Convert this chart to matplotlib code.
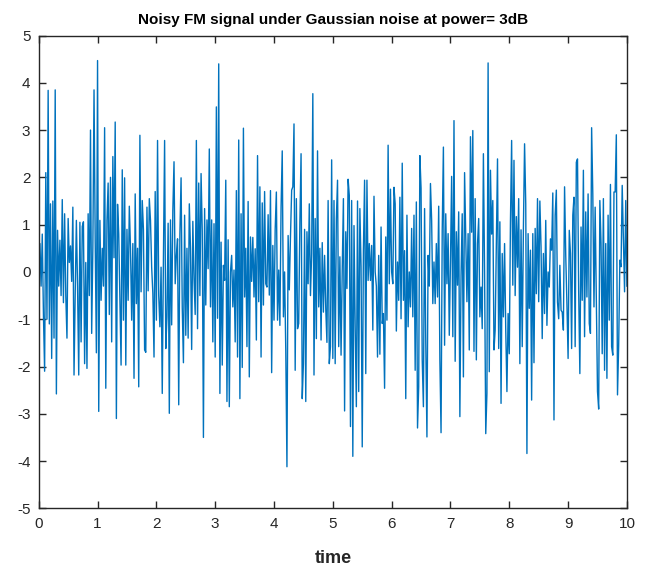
import numpy as np
import matplotlib
matplotlib.use("Agg")
import matplotlib.pyplot as plt

plt.rcParams['font.family'] = ['Liberation Sans', 'DejaVu Sans']
plt.rcParams['axes.unicode_minus'] = False

# signal values, one list per second (step 0.02)
sec0 = [0.3, 0.6, -0.3, 0.8, -0.9, -2.1, 2.1, -1.0, 3.84, -1.1, 1.44, -1.83, 1.5, -1.4, 3.85,
        -2.58, 0.88, -0.3, 0.67, -0.5, 1.53, -0.65, 1.23, -0.5, -1.4, 1.13, 0.2, 0.55, -0.2, 1.37,
        -2.18, -0.46, 1.09, -0.3, -2.18, 1.05, -1.48, 0.96, 1.06, -1.94, 0.2, -2.04, 1.23, -0.5, 3.0,
        -1.3, 0.5, 3.85, 0.67, -1.71]
sec1 = [4.47, -2.95, 1.09, -0.6, 0.5, -0.3, 3.05, -2.46, 1.09, 1.88, -0.9, 2.0, -1.48, 2.44, 0.3,
        3.17, -3.1, 1.43, 0.8, -0.6, -1.97, 2.16, -1.02, 1.99, -1.97, 0.9, -0.6, 1.39, 0.5, -1.02,
        0.6, -2.25, 1.65, -0.67, 0.5, -2.43, 2.89, -0.42, 1.51, 0.9, -1.65, -1.7, 1.37, -0.4, 1.55,
        1.09, 0.1, -0.45, -1.8, 1.7]
sec2 = [-1.02, 2.78, -0.5, -1.16, 0.1, -2.57, 0.3, 2.78, -1.62, -0.95, 1.03, -2.99, 1.1, -1.12, 1.3,
        2.33, -0.25, 0.35, 0.7, -2.81, 0.8, 1.99, -0.75, -1.92, 1.2, -1.34, 0.5, -1.4, 1.44, 0.5,
        -1.64, 1.07, -0.14, -0.9, 2.78, -1.2, 1.88, -0.5, 2.08, 0.86, -3.5, 1.34, -0.7, 1.1, 0.07,
        2.6, -0.74, 1.1, -1.48, 1.02]
sec3 = [-1.8, 3.49, -0.98, 4.4, -2.57, 0.63, -1.97, 0.14, -0.18, 1.94, -2.74, 0.68, -2.85, 0.0, 0.35,
        -0.74, 0.04, -1.48, 1.72, -1.8, 2.79, -2.68, 1.23, -2.02, 3.04, -0.53, 0.5, -1.58, 1.49, -2.22,
        0.74, -0.2, 0.73, -0.53, 0.49, -1.44, 2.46, -0.63, 1.8, -1.8, 1.46, -0.7, 1.7, -0.25, -0.32,
        1.21, -0.49, 1.72, -2.13, 0.56]
sec4 = [-1.02, 0.9, 1.69, -1.02, 0.04, -1.13, 1.37, 2.56, -0.95, 0.0, -1.65, -4.12, 0.77, -0.38, 0.74,
        1.73, 1.8, 3.13, -2.08, 1.55, -1.2, -1.09, 1.06, 2.5, -2.68, -1.94, 0.9, -2.74, 0.85, -0.25,
        1.44, -0.5, 0.38, 3.77, -2.18, 1.13, -1.41, 2.56, -0.74, 0.5, -1.44, 0.62, -0.85, 0.35, -0.78,
        -1.49, 1.51, -1.94, -1.58, 2.37]
sec5 = [-1.83, 1.51, -1.94, 1.13, 1.94, -1.58, 0.32, -1.76, 0.04, 1.55, -2.94, 0.85, -0.35, 1.96, 1.62,
        -3.27, 1.51, -3.9, 0.98, -1.16, -2.85, 1.5, -2.53, 1.34, 0.11, -3.7, 0.46, 1.94, -2.15, 1.94,
        -0.18, 0.6, -0.18, 0.56, -1.23, 1.6, 0.0, -0.3, -1.8, 0.35, -1.74, 0.95, -1.09, -0.88, -2.46,
        0.74, -1.02, 2.68, -0.25, 1.75]
sec6 = [0.0, -0.25, 1.79, 1.44, -1.25, 0.21, -0.6, 1.58, -0.99, 2.3, -0.6, 0.45, -2.68, 1.2, -1.16,
        0.0, -0.74, 0.92, -0.95, 1.2, -2.08, 1.48, -3.3, -2.43, 2.46, 1.77, -1.86, -2.85, 1.34, -1.48,
        -3.49, 0.35, -0.3, 1.87, 1.09, -0.67, 0.21, -0.67, 0.6, -0.53, 1.39, -1.86, -3.4, 0.88, 2.64,
        -1.55, 1.23, -0.25, 0.81, -1.34]
sec7 = [0.21, 2.02, -1.37, 3.2, -1.89, 0.85, -0.28, 1.27, -3.06, -0.07, 1.23, -2.22, 2.1, 0.74, -0.63,
        0.81, -1.65, 2.86, 0.84, 2.99, -1.68, 1.55, -1.86, 0.6, 1.13, -0.95, -0.32, -1.2, 2.5, 0.0,
        -3.42, -2.57, 4.42, -2.11, 2.15, 0.8, 1.51, -1.65, -1.23, 0.6, 2.39, -1.62, 1.06, -2.78, 0.39,
        -0.95, 0.6, -1.23, -2.53, -0.88]
sec8 = [-1.73, 1.06, 2.78, -0.28, 2.36, -0.5, 1.17, 0.1, 1.55, -1.94, 0.89, -1.58, 0.9, 2.71, 1.44,
        -3.84, 0.81, -0.77, 0.46, -2.71, 0.81, -1.92, 0.92, -0.46, 1.55, -0.63, 1.5, 0.53, -1.41, 0.39,
        -0.88, 1.09, -1.13, 0.0, -0.32, 0.7, 0.46, 1.67, -3.13, 1.2, 1.73, -0.64, -0.99, 0.14, -0.81,
        -0.85, -1.23, 1.8, 0.35, -0.67]
sec9 = [-1.83, 0.88, 0.39, -1.62, 1.2, 1.58, -1.58, 2.32, 2.39, -0.42, -2.15, 0.95, -0.6, 2.15, -1.37,
        1.27, -0.53, 1.65, -1.09, -1.3, 3.05, 1.65, -0.74, 1.37, -0.67, -2.53, -2.9, 1.51, 0.6, -1.73,
        1.55, -2.08, 0.6, -2.25, 1.2, -1.02, 1.85, -1.58, -1.76, 1.69, 1.69, 2.9, -2.6, -1.55, 0.25,
        0.11, 1.83, 0.74, -0.42, 1.51, -0.3]

signal = np.array(sec0 + sec1 + sec2 + sec3 + sec4 + sec5 + sec6 + sec7 + sec8 + sec9)
t = np.linspace(0, 10, len(signal))

xticks = list(range(0, 11))
yticks = list(range(-5, 6))

fig = plt.figure(figsize=(6.51, 5.68), dpi=100)
ax = fig.add_axes([0.0595, 0.105, 0.9035, 0.8325])
ax.plot(t, signal, color='#0072BD', lw=1.0)

ax.set_xlim(0, 10)
ax.set_ylim(-5, 5)
ax.set_xticks(xticks)
ax.set_yticks(yticks)
ax.tick_params(direction='in', length=5, width=1, top=True, right=True,
               labelsize=11, colors='#262626', pad=6)
for s in ax.spines.values():
    s.set_color('#262626')
    s.set_linewidth(1)

ax.set_title('Noisy FM signal under Gaussian noise at power= 3dB',
             fontsize=11, fontweight='bold', color='black', pad=8)
ax.set_xlabel('time', fontsize=13, fontweight='bold', color='#262626', labelpad=14)

fig.savefig('out.png', dpi=100)
